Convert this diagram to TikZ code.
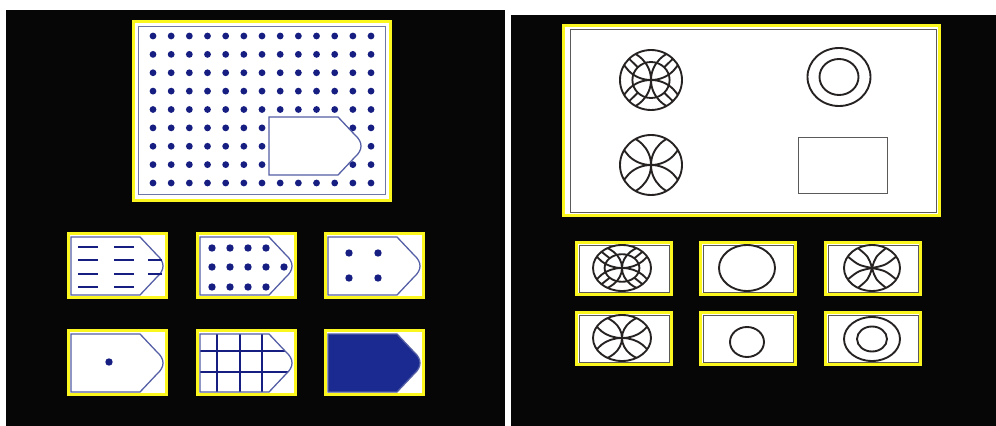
\documentclass[tikz,border=0pt]{standalone}
\usetikzlibrary{calc}
\definecolor{panelblack}{RGB}{6,6,6}
\definecolor{frameyellow}{RGB}{250,246,30}
\definecolor{framegray}{RGB}{110,118,165}
\definecolor{tagblue}{RGB}{85,95,165}
\definecolor{dotblue}{RGB}{22,30,130}
\definecolor{tagfill}{RGB}{26,42,145}
\definecolor{inkdark}{RGB}{38,34,34}
\tikzset{
  panel bg/.style={fill=panelblack},
  yellow frame/.style={draw=frameyellow, line width=2.5pt, fill=white},
  inner frame/.style={draw=framegray, line width=0.8pt},
  gray frame/.style={draw=inkdark!75, line width=0.8pt},
  tag line/.style={draw=tagblue, line width=1.1pt},
  dot/.style={fill=dotblue},
  dash line/.style={draw=dotblue, line width=2pt},
  grid line/.style={draw=dotblue, line width=1.1pt},
  ink line/.style={draw=inkdark, line width=1.6pt},
  petal sym/.pic={
    \begin{scope}
      \clip (0,0) circle[radius=1];
      \foreach \a in {0,90,180,270}
        \draw[ink line] (\a:1) circle[radius=1];
    \end{scope}
    \draw[ink line] (0,0) circle[radius=1];
  },
  star sym/.pic={
    \foreach \e/\c in {30/14, 60/76, 120/104, 150/166, 210/194, 240/256, 300/284, 330/346}
      \draw[ink line] (0,0) .. controls (\c:0.5) .. (\e:1);
    \draw[ink line] (0,0) circle[radius=1];
  },
  wheel sym/.pic={
    \begin{scope}
      \clip (0,0) circle[radius=1];
      \foreach \a in {0,90,180,270}
        \draw[ink line] (\a:1) circle[radius=1];
    \end{scope}
    \draw[ink line] (0,0) circle[radius=1];
    \draw[ink line] (0,0) circle[radius=0.6];
    \foreach \a in {45,135,225,315}
      \draw[ink line] (\a:0.6) -- (\a:1);
  },
}
\newcommand{\tagpath}[1]{\path[#1] (0,0) -- (69,0) -- (86,18) .. controls (94,25) and (94,33) .. (86,40) -- (69,58) -- (0,58) -- cycle;}

\begin{document}
\begin{tikzpicture}[x=0.03cm,y=-0.03cm]
  \useasboundingbox (0,0) rectangle (996,426);
  % the two black panels
  \fill[panel bg] (6,10) rectangle (505,426);
  \fill[panel bg] (511,15) rectangle (996,426);

  % left panel: dotted field with the cut-out
  \draw[yellow frame] (133.5,21.5) rectangle (390.5,200.5);
  \draw[inner frame] (138,26) rectangle (385,194);
  \foreach \i in {0,...,12}
    \foreach \j in {0,...,8}
      \fill[dot] (153+18.17*\i,36+18.375*\j) circle[radius=3.4];
  \begin{scope}[shift={(269,117)}]
    \tagpath{tag line, fill=white}
  \end{scope}

  % left panel: answer cards
  \draw[yellow frame] (68.5,233.5) rectangle (166.5,297.5);
  \draw[yellow frame] (197.5,233.5) rectangle (295.5,297.5);
  \draw[yellow frame] (325.5,233.5) rectangle (423.5,297.5);
  \draw[yellow frame] (68.5,330.5) rectangle (166.5,394.5);
  \draw[yellow frame] (197.5,330.5) rectangle (295.5,394.5);
  \draw[yellow frame] (325.5,330.5) rectangle (423.5,394.5);

  \begin{scope}[shift={(71,237)}]
    \tagpath{tag line, fill=white}
    \foreach \y in {10,23,37,50}
      \draw[dash line] (7,\y) -- (27,\y) (43,\y) -- (63,\y);
    \draw[dash line] (77,23) -- (91,23) (77,37) -- (91,37);
  \end{scope}
  \begin{scope}[shift={(200,237)}]
    \tagpath{tag line, fill=white}
    \foreach \x in {12,30,48,66}
      \foreach \y in {11,30,50}
        \fill[dot] (\x,\y) circle[radius=3.7];
    \fill[dot] (84,30) circle[radius=3.7];
  \end{scope}
  \begin{scope}[shift={(328,237)}]
    \tagpath{tag line, fill=white}
    \foreach \x in {21,50}
      \foreach \y in {16,41}
        \fill[dot] (\x,\y) circle[radius=3.7];
  \end{scope}
  \begin{scope}[shift={(71,334)}]
    \tagpath{tag line, fill=white}
    \fill[dot] (38,28) circle[radius=3.7];
  \end{scope}
  \begin{scope}[shift={(200,334)}]
    \tagpath{fill=white}
    \begin{scope}
      \tagpath{clip}
      \foreach \x in {17,40,62}
        \draw[grid line] (\x,0) -- (\x,58);
      \foreach \y in {17,38}
        \draw[grid line] (0,\y) -- (100,\y);
    \end{scope}
    \tagpath{tag line}
  \end{scope}
  \begin{scope}[shift={(328,334)}]
    \tagpath{tag line, fill=tagfill}
  \end{scope}

  % right panel: the figure field
  \draw[yellow frame] (563.5,25.5) rectangle (939.5,215.5);
  \draw[gray frame] (570,29.5) rectangle (936,212);
  \pic[xscale=31,yscale=30] at (651,80) {wheel sym};
  \draw[ink line] (839,77) ellipse[x radius=31.5, y radius=29];
  \draw[ink line] (839,77) ellipse[x radius=19.5, y radius=18];
  \pic[xscale=31,yscale=30] at (651,165) {petal sym};
  \draw[gray frame] (798,137) rectangle (887,193);

  % right panel: answer cards
  \draw[yellow frame] (576.5,242.5) rectangle (671.5,294.5);
  \draw[yellow frame] (700.5,242.5) rectangle (795.5,294.5);
  \draw[yellow frame] (825.5,242.5) rectangle (920.5,294.5);
  \draw[yellow frame] (576.5,312.5) rectangle (671.5,364.5);
  \draw[yellow frame] (700.5,312.5) rectangle (795.5,364.5);
  \draw[yellow frame] (825.5,312.5) rectangle (920.5,364.5);
  \draw[gray frame] (579,245) rectangle (669,292);
  \draw[gray frame] (703,245) rectangle (793,292);
  \draw[gray frame] (828,245) rectangle (918,292);
  \draw[gray frame] (579,315) rectangle (669,362);
  \draw[gray frame] (703,315) rectangle (793,362);
  \draw[gray frame] (828,315) rectangle (918,362);

  \pic[xscale=29,yscale=23] at (622,268) {wheel sym};
  \draw[ink line] (747,268) ellipse[x radius=28, y radius=23];
  \pic[xscale=28,yscale=23] at (872,268) {star sym};
  \pic[xscale=29,yscale=23] at (622,338) {petal sym};
  \draw[ink line] (747,342) ellipse[x radius=17, y radius=15];
  \draw[ink line] (872,339) ellipse[x radius=28, y radius=22];
  \draw[ink line] (872,339) ellipse[x radius=15, y radius=12.5];
\end{tikzpicture}
\end{document}
